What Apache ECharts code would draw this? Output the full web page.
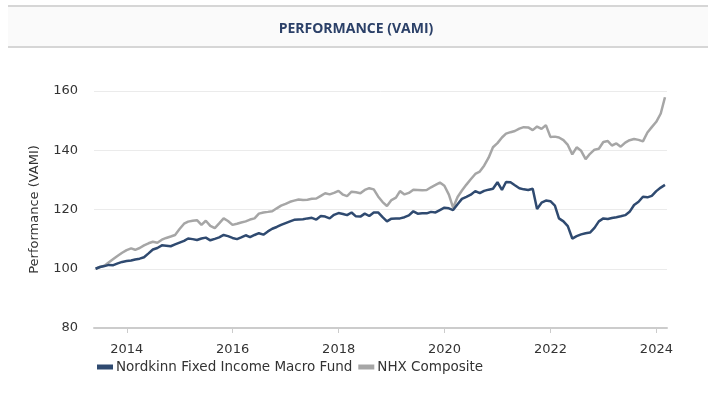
<!DOCTYPE html>
<html>
<head>
<meta charset="utf-8">
<title>Performance (VAMI)</title>
<script src="https://cdn.jsdelivr.net/npm/echarts@6/dist/echarts.min.js"></script>
<style>
  html, body { margin: 0; padding: 0; background: #fff; }
  #chart { width: 712px; height: 407px; }
</style>
</head>
<body>
<div id="chart"></div>
<script>
// monthly VAMI, starting end of May 2013
var START_YEAR = 2013, START_MONTH = 4; // 0-based month: May
var FUND_NAME = 'Nordkinn Fixed Income Macro Fund';
var INDEX_NAME = 'NHX Composite';

var fundValues = [
  100.0, 100.6, 100.9, 101.3, 101.2, 101.8, 102.3, 102.6, 102.8, 103.1,
  103.4, 103.9, 105.2, 106.5, 107.0, 107.9, 107.8, 107.6, 108.2, 108.8,
  109.4, 110.2, 110.0, 109.7, 110.2, 110.5, 109.6, 110.1, 110.6, 111.4,
  111.0, 110.4, 110.0, 110.6, 111.3, 110.7, 111.4, 112.0, 111.5, 112.6,
  113.5, 114.1, 114.8, 115.4, 116.0, 116.5, 116.6, 116.7, 117.0, 117.2,
  116.6, 117.8, 117.6, 117.0, 118.2, 118.8, 118.5, 118.1, 119.0, 117.7,
  117.6, 118.6, 117.8, 119.0, 119.0, 117.4, 116.0, 116.9, 117.0, 117.0,
  117.4, 118.0, 119.4, 118.6, 118.7, 118.7, 119.2, 119.0, 119.8, 120.6,
  120.4, 119.8, 121.8, 123.6, 124.3, 125.0, 126.2, 125.5, 126.3, 126.7,
  127.0, 129.2, 126.6, 129.3, 129.2, 128.2, 127.2, 126.8, 126.6, 127.0,
  120.2, 122.3, 123.0, 122.8, 121.3, 117.0, 116.0, 114.4, 110.2, 111.0,
  111.6, 112.0, 112.2, 113.8, 116.0, 117.0, 116.8, 117.1, 117.4, 117.7,
  118.1, 119.2, 121.5, 122.6, 124.3, 124.1, 124.6, 126.2, 127.4, 128.3
];

var indexValues = [
  100.0, 100.6, 101.0, 102.2, 103.3, 104.4, 105.4, 106.3, 106.9, 106.4,
  107.0, 107.9, 108.6, 109.1, 108.8, 109.8, 110.4, 110.9, 111.4, 113.4,
  115.2, 115.9, 116.2, 116.4, 114.8, 116.2, 114.5, 113.7, 115.3, 117.0,
  116.1, 114.8, 115.2, 115.6, 116.0, 116.6, 117.0, 118.6, 119.0, 119.2,
  119.4, 120.4, 121.3, 121.9, 122.6, 123.0, 123.4, 123.2, 123.3, 123.6,
  123.7, 124.6, 125.5, 125.1, 125.6, 126.3, 125.0, 124.5, 126.0, 125.8,
  125.5, 126.6, 127.2, 126.8, 124.4, 122.5, 121.2, 123.2, 124.0, 126.2,
  125.1, 125.6, 126.7, 126.6, 126.5, 126.6, 127.5, 128.3, 129.1, 128.0,
  125.0, 120.6, 124.2, 126.4, 128.4, 130.2, 132.0, 132.8, 134.8, 137.5,
  141.0, 142.4, 144.3, 145.6, 146.1, 146.5, 147.3, 147.8, 147.7, 146.8,
  148.0, 147.2, 148.5, 144.5, 144.6, 144.3, 143.4, 141.8, 138.6, 141.0,
  139.8, 137.0, 138.8, 140.2, 140.5, 142.8, 143.1, 141.6, 142.3, 141.2,
  142.6, 143.4, 143.8, 143.5, 143.0, 146.0, 147.8, 149.6, 152.4, 157.9
];

var tickYears = [2014, 2016, 2018, 2020, 2022, 2024];

function monthEnd(i) {
  // last day of the i-th month after the start
  return Date.UTC(START_YEAR, START_MONTH + i + 1, 0);
}

function toSeries(values) {
  return values.map(function (v, i) { return [monthEnd(i), v]; });
}

var tickTimes = tickYears.map(function (y) { return Date.UTC(y, 0, 1); });

var NAVY = '#2f4a70';
var GREY = '#a6a6a6';
var FONT = 'DejaVu Sans';

var chart = echarts.init(document.getElementById('chart'), null, { renderer: 'canvas' });

chart.setOption({
  animation: false,
  textStyle: { fontFamily: FONT },
  graphic: [
    { type: 'rect', shape: { x: 8, y: 6, width: 700, height: 41 }, style: { fill: '#fafafa' }, silent: true },
    { type: 'line', shape: { x1: 8, y1: 6, x2: 708, y2: 6 }, style: { stroke: '#d6d6d6', lineWidth: 2 }, silent: true },
    { type: 'line', shape: { x1: 8, y1: 47, x2: 708, y2: 47 }, style: { stroke: '#d6d6d6', lineWidth: 2 }, silent: true }
  ],
  title: {
    text: 'PERFORMANCE (VAMI)',
    left: 'center',
    top: 17,
    textStyle: { fontFamily: 'Open Sans', fontWeight: 'bold', fontSize: 14, color: '#2b4068' }
  },
  legend: {
    left: 92,
    top: 355,
    icon: 'rect',
    itemWidth: 16,
    itemHeight: 5,
    itemGap: 6,
    textStyle: { fontFamily: FONT, fontSize: 13.5, color: '#333', padding: [0, 0, 0, -2] },
    data: [FUND_NAME, INDEX_NAME]
  },
  grid: { left: 94, right: 45, top: 91, bottom: 79, containLabel: false },
  xAxis: {
    type: 'value',
    scale: true,
    min: Date.UTC(2013, 4, 20),
    max: Date.UTC(2024, 2, 14),
    axisLine: { lineStyle: { color: '#cccccc', width: 2 } },
    axisTick: { show: true, length: 5, lineStyle: { color: '#cccccc' }, customValues: tickTimes },
    axisLabel: {
      customValues: tickTimes,
      margin: 15,
      fontFamily: FONT,
      fontSize: 13,
      color: '#333',
      formatter: function (v) { return String(new Date(v).getUTCFullYear()); }
    },
    splitLine: { show: false }
  },
  yAxis: {
    type: 'value',
    min: 80,
    max: 160,
    interval: 20,
    name: 'Performance (VAMI)',
    nameLocation: 'middle',
    nameGap: 53,
    nameTextStyle: { fontFamily: FONT, fontSize: 13, color: '#333' },
    axisLine: { show: false },
    axisTick: { show: false },
    axisLabel: { margin: 16, fontFamily: FONT, fontSize: 13, color: '#333' },
    splitLine: { lineStyle: { color: '#ebebeb', width: 1 } }
  },
  series: [
    {
      name: FUND_NAME,
      type: 'line',
      data: toSeries(fundValues),
      showSymbol: false,
      itemStyle: { color: NAVY },
      lineStyle: { color: NAVY, width: 2.5 },
      z: 3
    },
    {
      name: INDEX_NAME,
      type: 'line',
      data: toSeries(indexValues),
      showSymbol: false,
      itemStyle: { color: GREY },
      lineStyle: { color: GREY, width: 2.5 },
      z: 2
    }
  ]
});
</script>
</body>
</html>
